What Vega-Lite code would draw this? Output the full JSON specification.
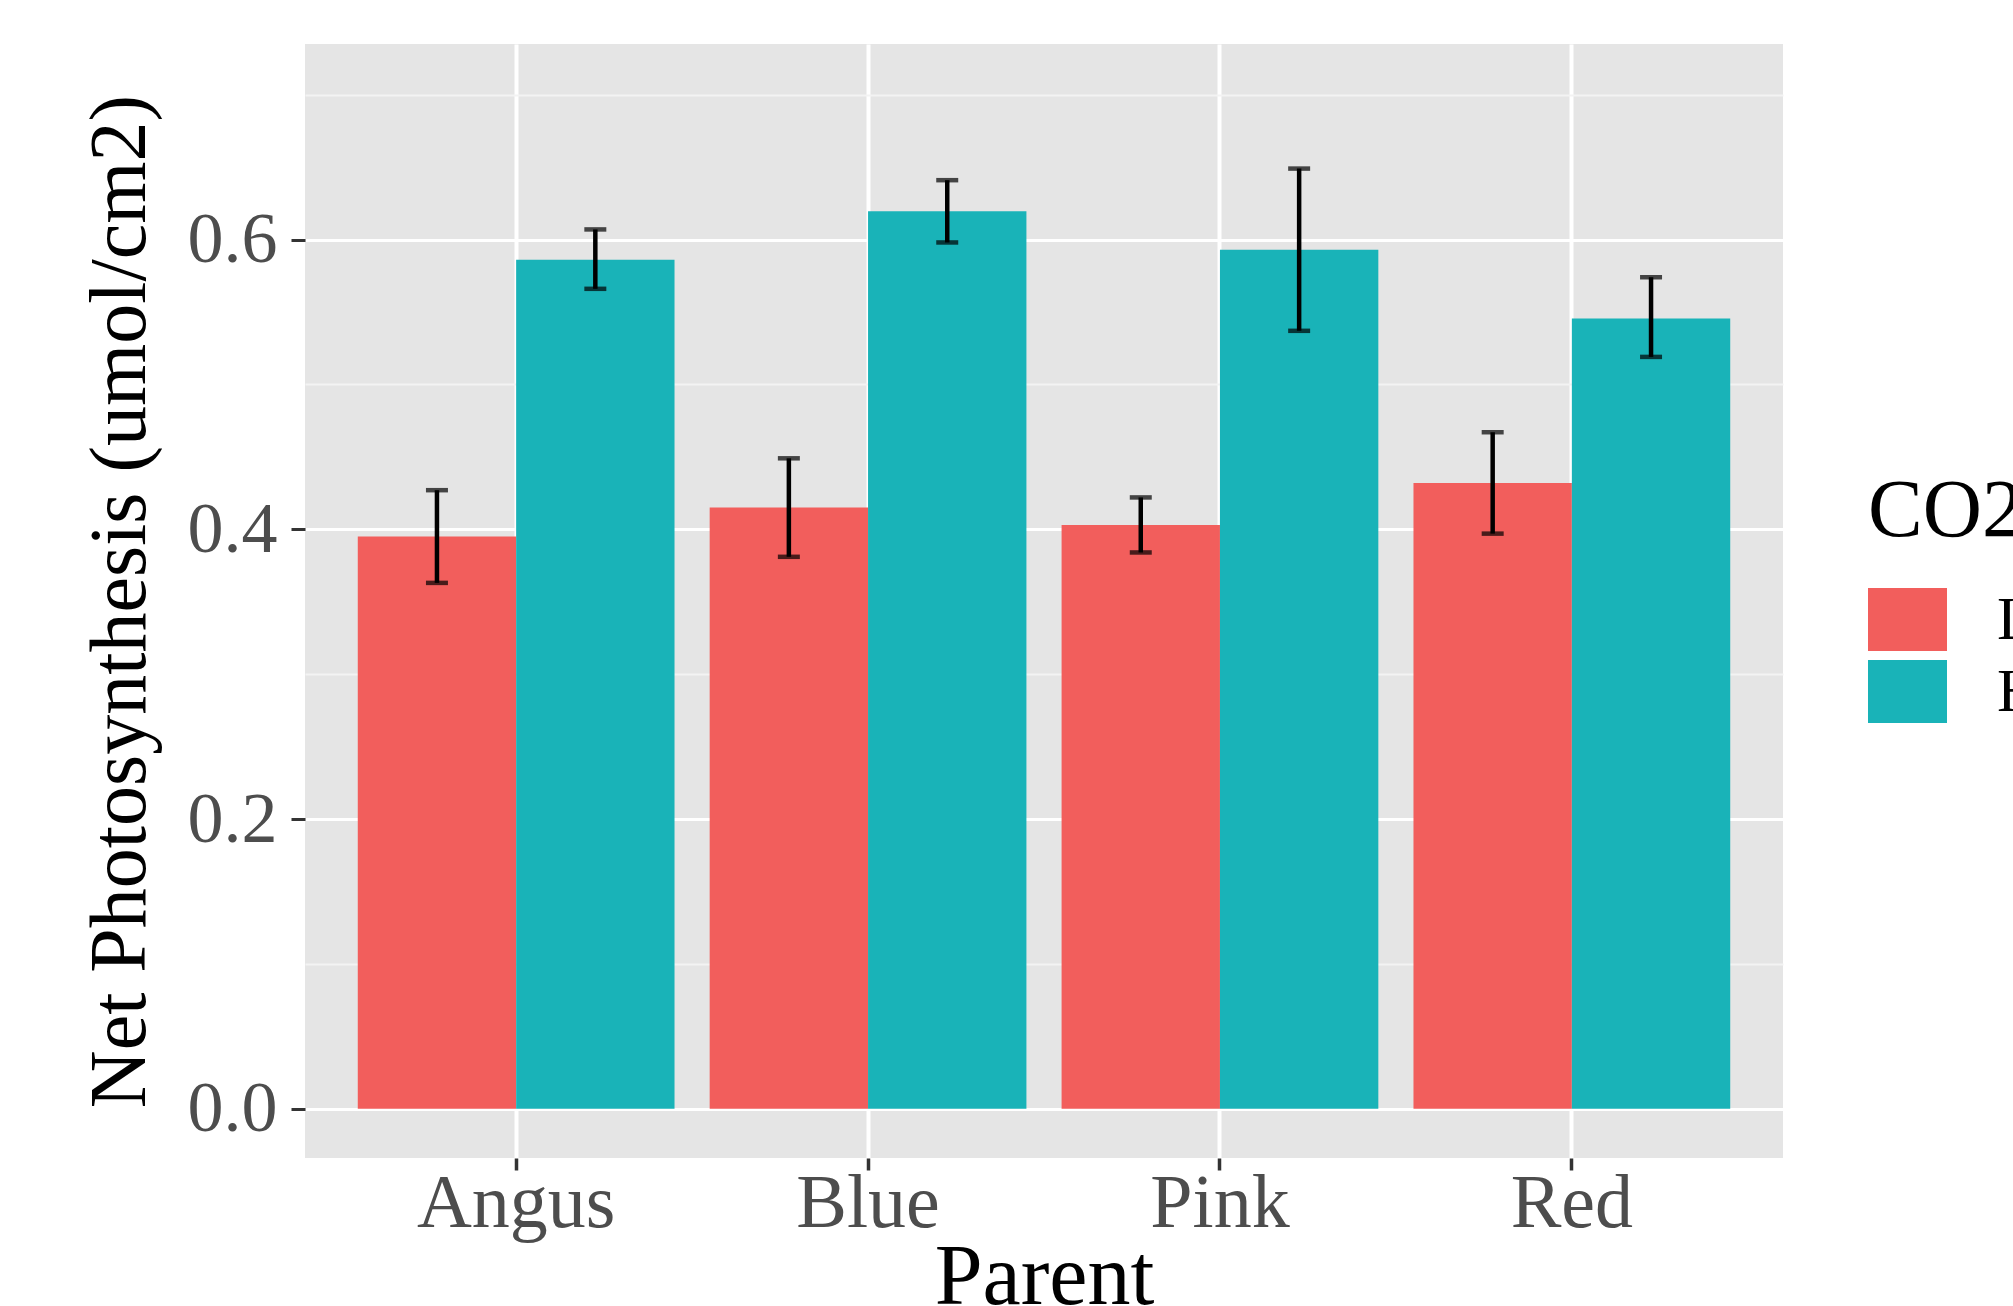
{
  "$schema": "https://vega.github.io/schema/vega-lite/v6.json",
  "autosize": {"type": "none"},
  "width": 1478,
  "height": 1114,
  "padding": {"left": 305, "top": 44, "right": 230, "bottom": 148},
  "background": "#FFFFFF",
  "config": {
    "font": "Liberation Serif",
    "view": {"fill": "#E5E5E5", "stroke": null},
    "axis": {"domain": false, "gridColor": "#FFFFFF", "tickColor": "#333333", "labelColor": "#4D4D4D", "titleColor": "#000000", "titleFontWeight": "normal", "labelLimit": 0},
    "legend": {"titleFontWeight": "normal"}
  },
  "data": {
    "values": [
      {"Parent": "Angus", "CO2": "Low", "mean": 0.395, "lo": 0.363, "hi": 0.427},
      {"Parent": "Angus", "CO2": "High", "mean": 0.586, "lo": 0.566, "hi": 0.607},
      {"Parent": "Blue", "CO2": "Low", "mean": 0.415, "lo": 0.381, "hi": 0.449},
      {"Parent": "Blue", "CO2": "High", "mean": 0.6195, "lo": 0.598, "hi": 0.641},
      {"Parent": "Pink", "CO2": "Low", "mean": 0.403, "lo": 0.384, "hi": 0.422},
      {"Parent": "Pink", "CO2": "High", "mean": 0.593, "lo": 0.537, "hi": 0.649},
      {"Parent": "Red", "CO2": "Low", "mean": 0.432, "lo": 0.397, "hi": 0.467},
      {"Parent": "Red", "CO2": "High", "mean": 0.5455, "lo": 0.519, "hi": 0.574}
    ]
  },
  "encoding": {
    "x": {
      "field": "Parent",
      "type": "nominal",
      "scale": {"paddingInner": 0, "paddingOuter": 0.1},
      "axis": {
        "title": "Parent",
        "labelAngle": 0,
        "bandPosition": 0.5,
        "grid": true,
        "gridWidth": 4,
        "tickSize": 12,
        "tickWidth": 3.5,
        "labelFontSize": 76,
        "labelPadding": -4,
        "titleFontSize": 86,
        "titlePadding": -6
      }
    },
    "xOffset": {
      "field": "CO2",
      "type": "nominal",
      "sort": ["Low", "High"],
      "scale": {"paddingInner": 0, "paddingOuter": 0.111}
    }
  },
  "layer": [
    {
      "mark": {"type": "bar"},
      "encoding": {
        "y": {
          "field": "mean",
          "type": "quantitative",
          "scale": {"domain": [-0.034, 0.735], "nice": false, "zero": false},
          "axis": {
            "title": "Net Photosynthesis (umol/cm2)",
            "values": [0, 0.2, 0.4, 0.6],
            "format": ".1f",
            "grid": true,
            "gridWidth": 3,
            "tickSize": 14,
            "tickWidth": 3,
            "labelFontSize": 72,
            "labelPadding": 14,
            "titleFontSize": 80,
            "titlePadding": 26
          }
        },
        "color": {
          "field": "CO2",
          "type": "nominal",
          "sort": ["Low", "High"],
          "scale": {"domain": ["Low", "High"], "range": ["#F25E5C", "#19B3B8"]},
          "legend": {
            "title": "CO2",
            "orient": "none",
            "legendX": 1563,
            "legendY": 427,
            "padding": 0,
            "titleFontSize": 82,
            "titleColor": "#000000",
            "titlePadding": 27,
            "labelFontSize": 62,
            "labelColor": "#000000",
            "labelOffset": 50,
            "rowPadding": -16,
            "symbolType": "M-1,-0.8H1V0.8H-1Z",
            "symbolSize": 6241,
            "symbolStrokeWidth": 0,
            "symbolOpacity": 1
          }
        }
      }
    },
    {
      "mark": {"type": "rule", "color": "#000000", "strokeWidth": 4.5},
      "encoding": {
        "y": {
          "field": "lo",
          "type": "quantitative",
          "axis": {
            "values": [0.1, 0.3, 0.5, 0.7],
            "grid": true,
            "gridWidth": 1.8,
            "gridColor": "#F3F3F3",
            "labels": false,
            "ticks": false,
            "title": null
          }
        },
        "y2": {"field": "hi"}
      }
    },
    {
      "mark": {"type": "tick", "orient": "horizontal", "color": "#000000", "size": 22, "thickness": 4.5},
      "encoding": {"y": {"field": "lo", "type": "quantitative", "axis": null}}
    },
    {
      "mark": {"type": "tick", "orient": "horizontal", "color": "#000000", "size": 22, "thickness": 4.5},
      "encoding": {"y": {"field": "hi", "type": "quantitative", "axis": null}}
    }
  ],
  "resolve": {"axis": {"y": "independent"}}
}
